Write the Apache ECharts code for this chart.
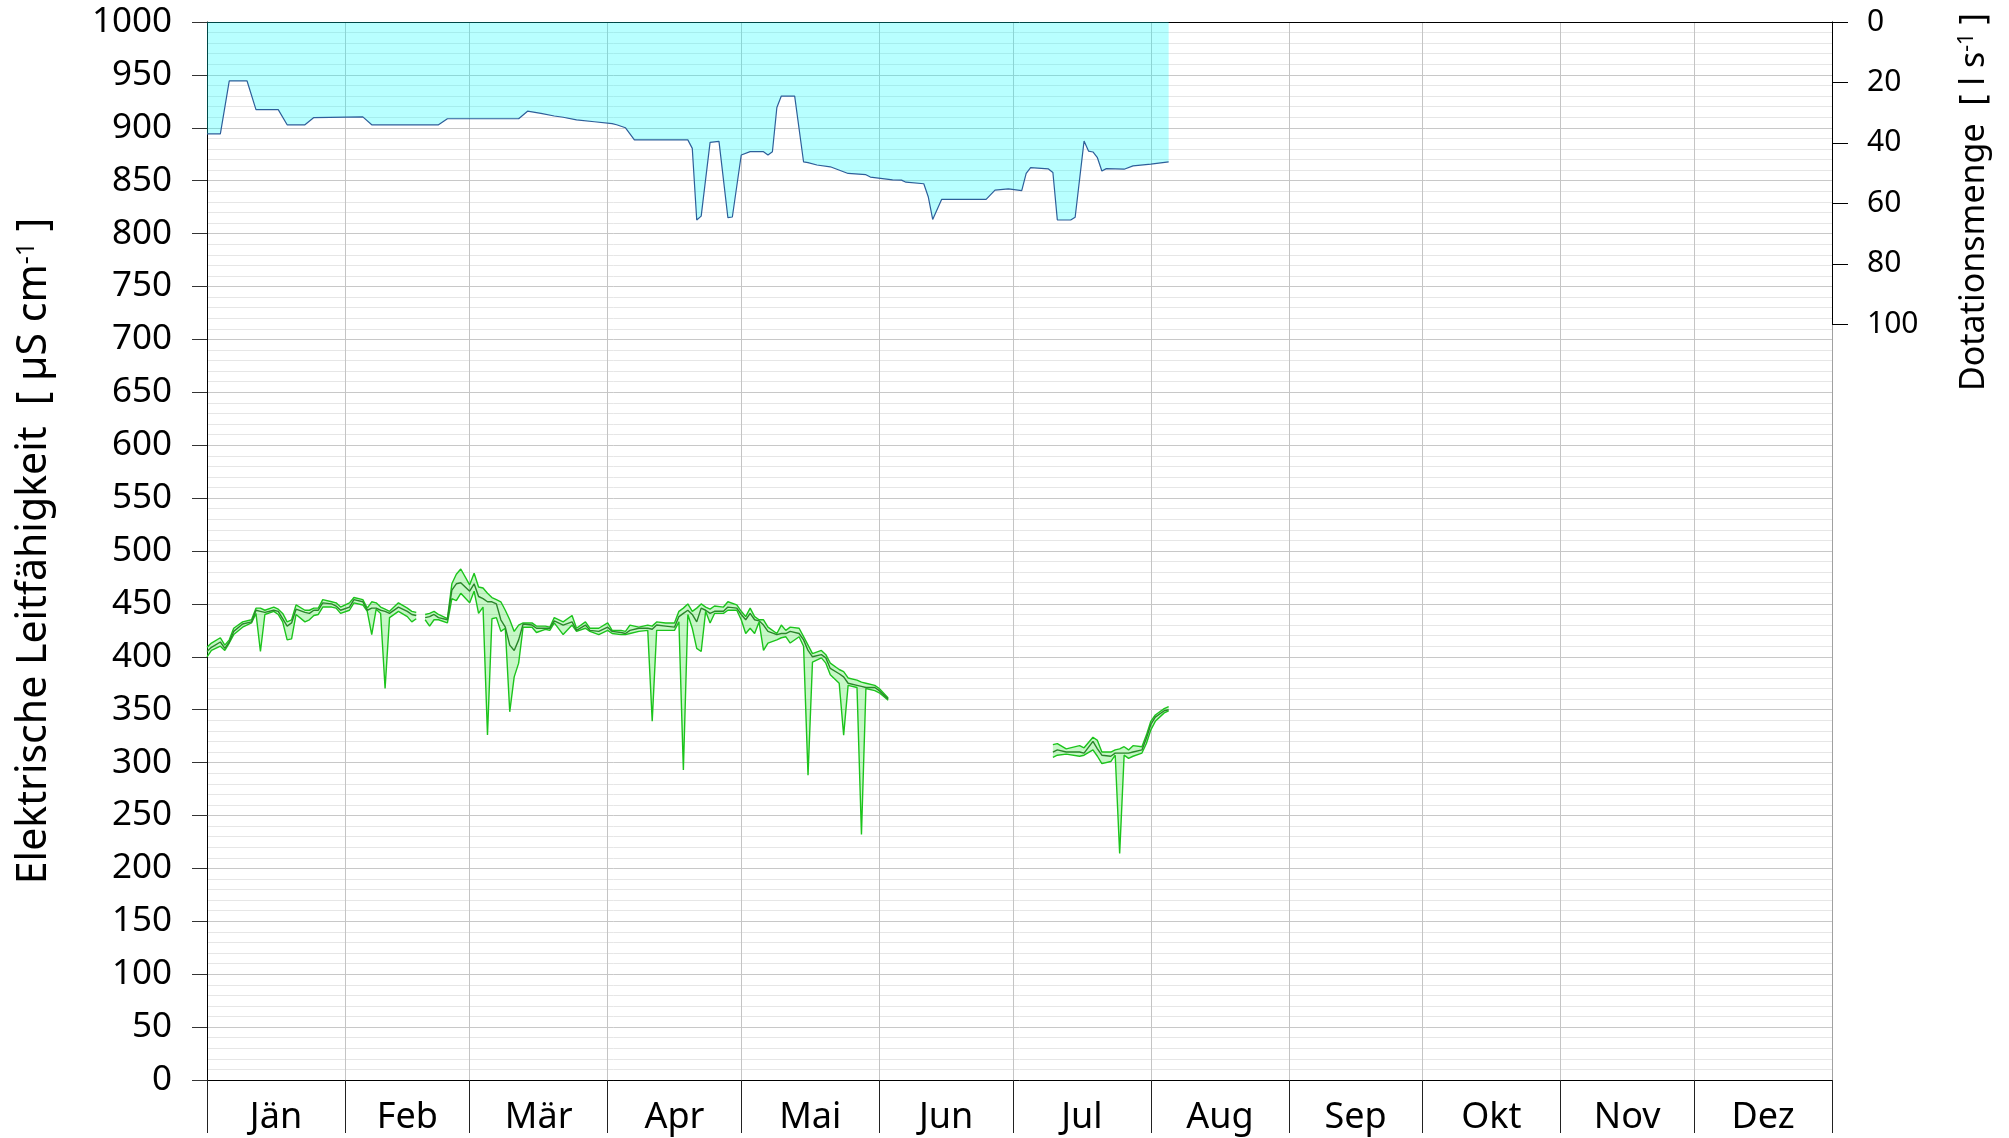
<!DOCTYPE html>
<html>
<head>
<meta charset="utf-8">
<title>Leitfähigkeit und Dotationsmenge</title>
<script src="https://cdn.jsdelivr.net/npm/echarts@6/dist/echarts.min.js"></script>
<style>
  html, body { margin: 0; padding: 0; background: #fff; }
  #chart { width: 2009px; height: 1138px; }
</style>
</head>
<body>
<div id="chart"></div>
<script>
// Monate (Tag im Jahr, kein Schaltjahr)
const months = ['Jän', 'Feb', 'Mär', 'Apr', 'Mai', 'Jun', 'Jul', 'Aug', 'Sep', 'Okt', 'Nov', 'Dez'];
const monthStarts = [0, 31, 59, 90, 120, 151, 181, 212, 243, 273, 304, 334, 365];

// Leitfähigkeit [µS/cm]: Tag, Maximum, Mittel, Minimum (null = Lücke)
const condDays = [0, 1, 3, 4, 5, 6, 8, 10, 11, 12, 13, 15, 16, 17, 18, 19, 20, 22, 23, 24, 25, 26, 28, 29, 30, 32, 33, 35, 36, 37, 38, 39, 40, 41, 43, 45, 46, 47,
  48,
  49, 50, 51, 52, 54, 55, 56, 57, 59, 60, 61, 62, 63, 64, 65, 66, 67, 68, 69, 70, 71, 73, 74, 76, 77, 78, 80, 82, 83, 85, 86, 88, 90, 91, 93, 94, 95, 97, 99, 100,
  101, 103, 105, 106, 107, 108, 109, 110, 111, 112, 113, 114, 116, 117, 119, 120, 121, 122, 123, 124, 125, 126, 128, 129, 130, 131, 133, 134, 135, 136, 138, 139,
  140, 142, 143, 144, 146, 147, 148, 150, 151, 153,
  170,
  190, 191, 193, 196, 197, 199, 200, 201, 203, 204, 205, 206, 207, 208, 210, 211, 212, 213, 215, 216];
const condMax = [409, 413, 418, 411, 416, 427, 433, 435, 446, 446, 444, 447, 445, 441, 433, 435, 449, 444, 444, 446, 446, 454, 452, 451, 447, 451, 456, 454, 446, 452, 451, 447, 445, 443, 451, 446, 443, 442,
  null,
  440, 441, 443, 440, 436, 469, 478, 483, 468, 479, 466, 465, 460, 456, 454, 452, 444, 435, 424, 430, 432, 432, 429, 429, 428, 437, 433, 439, 427, 433, 427, 427, 432, 425, 425, 424, 430, 428, 430, 429,
  433, 432, 432, 443, 446, 450, 443, 446, 450, 447, 445, 448, 447, 452, 449, 443, 438, 446, 438, 435, 435, 428, 422, 430, 425, 428, 427, 419, 411, 403, 406, 402,
  394, 388, 386, 380, 378, 376, 375, 373, 370, 361,
  null,
  317, 318, 313, 316, 314, 324, 321, 310, 310, 312, 313, 315, 312, 316, 315, 326, 339, 345, 351, 353];
const condMean = [405, 409, 414, 408, 414, 424, 431, 433, 444, 443, 442, 444, 443, 436, 429, 432, 445, 442, 441, 444, 444, 451, 450, 448, 444, 447, 454, 452, 444, 446, 446, 444, 443, 441, 447, 443, 440, 439,
  null,
  437, 438, 440, 437, 435, 463, 469, 470, 462, 469, 457, 455, 452, 452, 450, 435, 428, 411, 406, 416, 431, 430, 427, 427, 427, 434, 430, 433, 425, 430, 425, 424, 428, 424, 423, 422, 425, 427, 427, 426,
  430, 429, 428, 438, 441, 444, 440, 433, 446, 444, 441, 443, 443, 447, 446, 440, 435, 441, 435, 434, 430, 424, 421, 422, 422, 424, 422, 416, 406, 400, 402, 399,
  389, 384, 381, 375, 373, 372, 371, 371, 368, 360,
  null,
  310, 312, 310, 310, 309, 320, 313, 307, 306, 309, 309, 309, 309, 310, 312, 323, 336, 343, 349, 350];
const condMin = [400, 406, 410, 406, 413, 421, 428, 432, 441, 405, 440, 443, 440, 433, 416, 417, 440, 433, 435, 439, 440, 447, 447, 446, 441, 444, 451, 449, 443, 421, 445, 441, 370, 437, 443, 438, 433, 436,
  null,
  435, 429, 435, 435, 432, 455, 453, 460, 451, 462, 441, 447, 326, 436, 437, 424, 427, 348, 381, 394, 428, 428, 423, 426, 425, 432, 421, 430, 424, 427, 424, 421, 425, 422, 421, 421, 422, 424, 425, 339,
  425, 425, 425, 433, 293, 440, 427, 408, 405, 443, 432, 441, 441, 444, 444, 435, 422, 427, 422, 433, 406, 413, 416, 418, 419, 413, 419, 410, 288, 395, 399, 394,
  383, 375, 326, 373, 371, 232, 370, 368, 366, 359,
  null,
  305, 307, 308, 306, 307, 312, 306, 299, 301, 307, 214, 307, 304, 306, 309, 318, 331, 339, 347, 349];

// Dotationsmenge [l/s]
const dotDays = [0, 3, 5, 9, 11, 16, 18, 22, 24, 35, 37, 52, 54, 70, 72, 75, 78, 80, 83, 87, 91, 92, 94, 96, 108, 109, 110, 111, 113, 115, 117, 118, 120, 122, 125,
  126, 127, 128, 129, 132, 134, 135, 137, 140, 144, 148, 149, 154, 156, 157, 161, 162, 163, 165, 175, 177, 180, 183, 184, 185, 189, 190, 191, 194, 195, 197, 198,
  199, 200, 201, 202, 206, 208, 212, 216];
const dotFlow = [37, 37, 19.5, 19.5, 29, 29, 34, 34, 31.6, 31.4, 34, 34, 32, 32, 29.5, 30.2, 31.1, 31.5, 32.4, 33, 33.6, 34, 35, 39, 39, 41.8, 65.5, 64.2, 39.8, 39.5, 64.7, 64.5, 44, 42.9, 42.9,
  44, 42.9, 28.3, 24.5, 24.5, 46.3, 46.5, 47.3, 47.9, 50.1, 50.5, 51.3, 52.2, 52.3, 53, 53.5, 57.8, 65.3, 58.7, 58.7, 55.6, 55.2, 55.8, 50.1, 48.2, 48.6, 49.8, 65.5, 65.5, 64.6, 39.4, 42.7,
  43, 44.9, 49.3, 48.5, 48.7, 47.6, 47, 46.3];

const font = 'Noto Sans';
const bandFill = 'rgba(0,223,0,0.22)';
const monthMids = months.map((m, i) => (monthStarts[i] + monthStarts[i + 1]) / 2);

const chart = echarts.init(document.getElementById('chart'));

// Band zwischen Minimum und Maximum als Polygone je zusammenhängendem Abschnitt
function renderBand(params, api) {
  if (params.dataIndex !== 0) return null;
  const children = [];
  let upper = [];
  let lower = [];
  const flush = () => {
    if (upper.length > 1) {
      children.push({
        type: 'polygon',
        shape: { points: upper.concat(lower.reverse()) },
        style: { fill: bandFill }
      });
    }
    upper = [];
    lower = [];
  };
  condDays.forEach((d, i) => {
    if (condMax[i] == null) { flush(); return; }
    upper.push(api.coord([d, condMax[i]]));
    lower.push(api.coord([d, condMin[i]]));
  });
  flush();
  return { type: 'group', children: children };
}

const lineSeries = (name, values, color) => ({
  name: name,
  type: 'line',
  xAxisIndex: 0,
  yAxisIndex: 0,
  data: condDays.map((d, i) => [d, values[i]]),
  symbol: 'none',
  connectNulls: false,
  lineStyle: { color: color, width: 1.4 },
  z: 4
});

const option = {
  animation: false,
  backgroundColor: '#fff',
  grid: [
    { left: 207, right: 177, top: 22, bottom: 58 },
    // obere Zone nur für die Dotationsmenge 0–100 l/s
    { left: 207, right: 177, top: 22, height: 302.3 }
  ],
  xAxis: [
    {
      type: 'value',
      gridIndex: 0,
      min: 0,
      max: 365,
      position: 'bottom',
      axisLine: { show: true, onZero: false, lineStyle: { color: '#000', width: 1 } },
      axisTick: { show: true, customValues: monthStarts, length: 53, lineStyle: { color: '#222' } },
      axisLabel: {
        customValues: monthMids,
        formatter: v => months[monthMids.indexOf(v)],
        fontFamily: font, fontSize: 36, color: '#000', margin: 20
      },
      splitLine: { show: true, lineStyle: { color: '#c4c4c4', width: 1 } }
    },
    {
      type: 'value',
      gridIndex: 0,
      min: 0,
      max: 365,
      position: 'top',
      axisLine: { show: true, onZero: false, lineStyle: { color: '#000', width: 1 } },
      axisTick: { show: false },
      axisLabel: { show: false },
      splitLine: { show: false }
    },
    {
      type: 'value',
      gridIndex: 1,
      min: 0,
      max: 365,
      show: false
    }
  ],
  yAxis: [
    {
      type: 'value',
      gridIndex: 0,
      min: 0,
      max: 1000,
      interval: 50,
      position: 'left',
      name: '{t|Elektrische Leitfähigkeit  [ µS cm}{s|-1}{t| ]}',
      nameLocation: 'middle',
      nameGap: 152,
      nameTextStyle: {
        rich: {
          t: { fontFamily: font, fontSize: 41, color: '#000' },
          s: { fontFamily: font, fontSize: 25, color: '#000', verticalAlign: 'top', padding: [0, 0, 14, 0] }
        }
      },
      axisLine: { show: true, onZero: false, lineStyle: { color: '#000' } },
      axisTick: { show: true, length: 15, lineStyle: { color: '#333' } },
      axisLabel: { fontFamily: font, fontSize: 35, color: '#000', margin: 35, formatter: v => String(v) },
      splitLine: { show: true, lineStyle: { color: '#c8c8c8' } },
      minorTick: { show: false, splitNumber: 5 },
      minorSplitLine: { show: true, lineStyle: { color: '#e6e6e6' } }
    },
    {
      // rechter Rahmen unterhalb der Dotationsskala
      type: 'value',
      gridIndex: 0,
      min: 0,
      max: 1000,
      position: 'right',
      axisLine: { show: true, onZero: false, lineStyle: { color: '#a0a0a0' } },
      axisTick: { show: false },
      axisLabel: { show: false },
      splitLine: { show: false }
    },
    {
      type: 'value',
      gridIndex: 1,
      min: 0,
      max: 100,
      interval: 20,
      inverse: true,
      position: 'right',
      axisLine: { show: true, onZero: false, lineStyle: { color: '#000' } },
      axisTick: { show: true, length: 16, lineStyle: { color: '#000' } },
      axisLabel: { fontFamily: font, fontSize: 30, color: '#000', margin: 35 },
      splitLine: { show: false }
    }
  ],
  graphic: [
    {
      type: 'text',
      x: 1974,
      y: 202,
      rotation: Math.PI / 2,
      style: {
        text: '{t|Dotationsmenge  [ l s}{s|-1}{t| ]}',
        align: 'center',
        verticalAlign: 'middle',
        rich: {
          t: { fontFamily: font, fontSize: 34, fill: '#000' },
          s: { fontFamily: font, fontSize: 21, fill: '#000', verticalAlign: 'top', padding: [0, 0, 12, 0] }
        }
      }
    }
  ],
  series: [
    {
      name: 'Dotationsmenge',
      type: 'line',
      xAxisIndex: 2,
      yAxisIndex: 2,
      data: dotDays.map((d, i) => [d, dotFlow[i]]),
      symbol: 'none',
      lineStyle: { color: '#2d5f9a', width: 1.2 },
      areaStyle: { color: 'rgba(0,255,255,0.4)', origin: 'start' },
      z: 2
    },
    {
      name: 'Band',
      type: 'custom',
      xAxisIndex: 0,
      yAxisIndex: 0,
      data: condDays.map((d, i) => [d, condMin[i], condMax[i]]),
      renderItem: renderBand,
      silent: true,
      z: 3
    },
    lineSeries('Minimum', condMin, '#1cc41c'),
    lineSeries('Maximum', condMax, '#1cc41c'),
    lineSeries('Mittel', condMean, '#2a872a')
  ]
};

chart.setOption(option);
</script>
</body>
</html>
